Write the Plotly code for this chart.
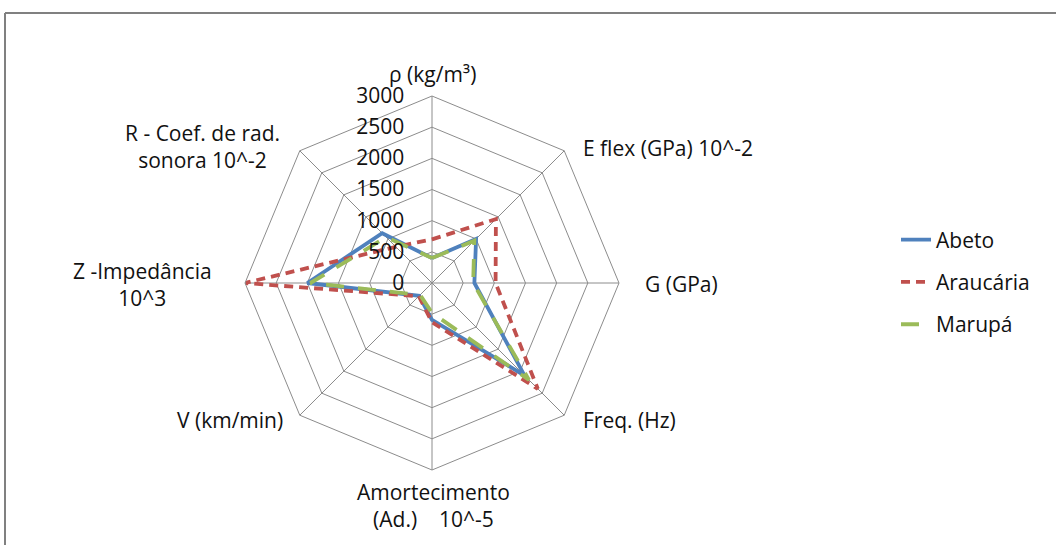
import plotly.graph_objects as go

categories = ["ρ (kg/m³)", "E flex (GPa) 10^-2", "G (GPa)", "Freq. (Hz)",
              "Amortecimento (Ad.) 10^-5", "V (km/min)", "Z -Impedância 10^3",
              "R - Coef. de rad. sonora 10^-2"]
abeto = [400, 1000, 680, 2100, 590, 290, 2000, 1130]
araucaria = [700, 1450, 1020, 2400, 630, 300, 3000, 820]
marupa = [400, 960, 660, 2200, 480, 270, 1950, 1040]
radial_ticks = [0, 500, 1000, 1500, 2000, 2500, 3000]

W, H = 1056, 545
FONT = "Open Sans"
FS = 21
TXT = "#111"
GRID = "#8c8c8c"

cx, cy, R = 432, 283, 187

fig = go.Figure()
series = [
    ("Abeto", abeto, "#4F81BD", "solid"),
    ("Araucária", araucaria, "#C0504D", "9px,6px"),
    ("Marupá", marupa, "#9BBB59", "18px,14px"),
]
for name, vals, col, dash in series:
    fig.add_trace(go.Scatterpolar(
        r=vals + vals[:1], theta=categories + categories[:1],
        mode="lines", name=name, legendgroup=name,
        line=dict(color=col, width=3.8, dash=dash),
    ))

fig.update_layout(
    width=W, height=H,
    margin=dict(l=0, r=0, t=0, b=0),
    paper_bgcolor="white", plot_bgcolor="white",
    font=dict(family=FONT, size=FS, color=TXT),
    polar=dict(
        domain=dict(x=[(cx - R) / W, (cx + R) / W],
                    y=[(H - cy - R) / H, (H - cy + R) / H]),
        bgcolor="white",
        gridshape="linear",
        angularaxis=dict(rotation=90, direction="clockwise",
                         showticklabels=False, ticks="",
                         showline=True, linecolor=GRID, linewidth=1,
                         gridcolor=GRID, gridwidth=1),
        radialaxis=dict(range=[0, 3000], tickvals=radial_ticks,
                        angle=90, tickangle=90, side="counterclockwise",
                        showline=False, gridcolor=GRID, gridwidth=1,
                        ticks="outside", ticklen=20, tickcolor="rgba(0,0,0,0)",
                        tickfont=dict(family=FONT, size=FS, color=TXT)),
    ),
    legend=dict(x=(940 - 44) / W, y=(H - 282) / H, xanchor="left", yanchor="middle",
                font=dict(family=FONT, size=FS, color=TXT),
                tracegroupgap=12, bgcolor="rgba(0,0,0,0)"),
    showlegend=True,
)

def px_x(x):
    return x / W

def px_y(y):
    return (H - y) / H

labels = [
    ("ρ (kg/m³)", 432, 74, "center"),
    ("E flex (GPa) 10^-2", 581, 148, "left"),
    ("G (GPa)", 643, 284, "left"),
    ("Freq. (Hz)", 581, 420, "left"),
    ("Amortecimento<br>(Ad.)    10^-5", 433, 505, "center"),
    ("V (km/min)", 285, 420, "right"),
    ("Z -Impedância<br>10^3", 142, 284, "center"),
    ("R - Coef. de rad.<br>sonora 10^-2", 202, 146, "center"),
]
for txt, x, y, anchor in labels:
    fig.add_annotation(text=txt, x=px_x(x), y=px_y(y), xref="paper", yref="paper",
                       xanchor=anchor, yanchor="middle", align="center",
                       showarrow=False, font=dict(family=FONT, size=FS, color=TXT))

# chart frame (top and left edges visible in the reference)
fig.add_shape(type="line", xref="paper", yref="paper", x0=px_x(5), x1=1, y0=px_y(13), y1=px_y(13),
              line=dict(color="#808080", width=2))
fig.add_shape(type="line", xref="paper", yref="paper", x0=px_x(5), x1=px_x(5), y0=px_y(13), y1=0,
              line=dict(color="#808080", width=2))

fig.write_html("out.html")
